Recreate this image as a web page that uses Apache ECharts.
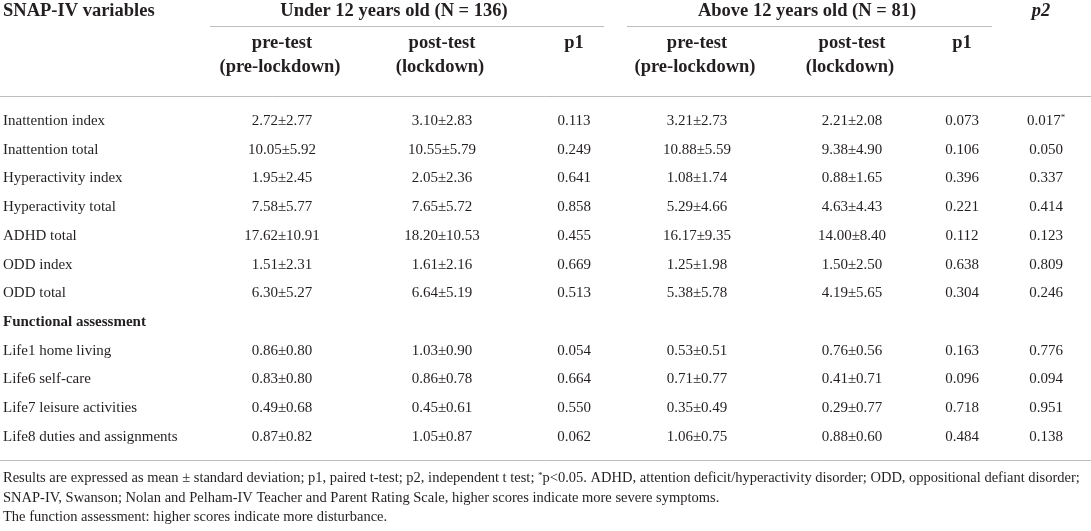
<!DOCTYPE html>
<html>
<head>
<meta charset="utf-8">
<script src="https://cdn.jsdelivr.net/npm/echarts@6/dist/echarts.min.js"></script>
<style>
html, body { margin: 0; padding: 0; background: #fff; }
#main { width: 1091px; height: 531px; }
</style>
</head>
<body>
<div id="main"></div>
<script>
'use strict';
// row labels (one with null values = section heading)
var rowLabels = ['Inattention index', 'Inattention total', 'Hyperactivity index', 'Hyperactivity total',
	'ADHD total', 'ODD index', 'ODD total', 'Functional assessment',
	'Life1 home living', 'Life6 self-care', 'Life7 leisure activities', 'Life8 duties and assignments'];

var under12PreMean = [2.72, 10.05, 1.95, 7.58, 17.62, 1.51, 6.30, null, 0.86, 0.83, 0.49, 0.87];
var under12PreSd = [2.77, 5.92, 2.45, 5.77, 10.91, 2.31, 5.27, null, 0.80, 0.80, 0.68, 0.82];
var under12PostMean = [3.10, 10.55, 2.05, 7.65, 18.20, 1.61, 6.64, null, 1.03, 0.86, 0.45, 1.05];
var under12PostSd = [2.83, 5.79, 2.36, 5.72, 10.53, 2.16, 5.19, null, 0.90, 0.78, 0.61, 0.87];
var under12P1 = [0.113, 0.249, 0.641, 0.858, 0.455, 0.669, 0.513, null, 0.054, 0.664, 0.550, 0.062];

var above12PreMean = [3.21, 10.88, 1.08, 5.29, 16.17, 1.25, 5.38, null, 0.53, 0.71, 0.35, 1.06];
var above12PreSd = [2.73, 5.59, 1.74, 4.66, 9.35, 1.98, 5.78, null, 0.51, 0.77, 0.49, 0.75];
var above12PostMean = [2.21, 9.38, 0.88, 4.63, 14.00, 1.50, 4.19, null, 0.76, 0.41, 0.29, 0.88];
var above12PostSd = [2.08, 4.90, 1.65, 4.43, 8.40, 2.50, 5.65, null, 0.56, 0.71, 0.77, 0.60];
var above12P1 = [0.073, 0.106, 0.396, 0.221, 0.112, 0.638, 0.304, null, 0.163, 0.096, 0.718, 0.484];

var p2 = [0.017, 0.050, 0.337, 0.414, 0.123, 0.809, 0.246, null, 0.776, 0.094, 0.951, 0.138];

var firstHead = 'SNAP-IV variables';
var groupTitles = ['Under 12 years old (N = 136)', 'Above 12 years old (N = 81)'];
var subHeads = [['pre-test', '(pre-lockdown)'], ['post-test', '(lockdown)'], ['p1']];
var lastHead = 'p2';
var footnotes = [
	'Results are expressed as mean \u00b1 standard deviation; p1, paired t-test; p2, independent t test; {s|*}p<0.05. ADHD, attention deficit/hyperactivity disorder; ODD, oppositional defiant disorder;',
	'SNAP-IV, Swanson; Nolan and Pelham-IV Teacher and Parent Rating Scale, higher scores indicate more severe symptoms.',
	'The function assessment: higher scores indicate more disturbance.'
];

// layout
var INK = '#231f20';
var RULE = '#bdbdbd';
var SERIF = '"Liberation Serif", "DejaVu Serif", serif';
var colX = [3, 282, 442, 574, 697, 852, 962, 1046];

function ms(m, s) {
	return m == null ? '' : m.toFixed(2) + '\u00b1' + s.toFixed(2);
}
function pv(p) {
	return p == null ? '' : p.toFixed(3);
}

var cells = [];
rowLabels.forEach(function (lab, i) {
	var section = under12PreMean[i] == null;
	cells.push([colX[0], i, lab, section ? 'section' : 'label']);
	if (section) return;
	cells.push([colX[1], i, ms(under12PreMean[i], under12PreSd[i]), 'num']);
	cells.push([colX[2], i, ms(under12PostMean[i], under12PostSd[i]), 'num']);
	cells.push([colX[3], i, pv(under12P1[i]), 'num']);
	cells.push([colX[4], i, ms(above12PreMean[i], above12PreSd[i]), 'num']);
	cells.push([colX[5], i, ms(above12PostMean[i], above12PostSd[i]), 'num']);
	cells.push([colX[6], i, pv(above12P1[i]), 'num']);
	cells.push([colX[7], i, pv(p2[i]) + (p2[i] < 0.05 ? '{s|*}' : ''), 'num']);
});

function headText(x, y, text, align, style) {
	return {
		type: 'text', x: x, y: y, silent: true,
		style: {
			text: text, fill: INK, align: align || 'center', verticalAlign: 'middle',
			font: (style || 'bold') + ' 18.5px ' + SERIF
		}
	};
}
function rule(x1, x2, y) {
	return {
		type: 'line', silent: true,
		shape: { x1: x1, y1: y, x2: x2, y2: y },
		style: { stroke: RULE, lineWidth: 1 }
	};
}

var graphics = [
	headText(3, 11, firstHead, 'left'),
	headText(394, 11, groupTitles[0]),
	headText(807, 11, groupTitles[1]),
	headText(1041, 11, lastHead, 'center', 'italic bold'),
	rule(210, 604, 26.5),
	rule(627, 992, 26.5),
	rule(0, 1091, 96.5),
	rule(0, 1091, 460.5)
];
[[1, 4], [2, 5], [3, 6]].forEach(function (pair, k) {
	pair.forEach(function (c) {
		var x = colX[c];
		graphics.push(headText(x, 43, subHeads[k][0]));
		if (subHeads[k][1]) graphics.push(headText(x - 2, 67, subHeads[k][1]));
	});
});
footnotes.forEach(function (t, i) {
	graphics.push({
		type: 'text', x: 3, y: 478.5 + i * 19.5, silent: true,
		style: {
			text: t, fill: INK, align: 'left', verticalAlign: 'middle',
			font: '14.5px ' + SERIF,
			rich: { s: { fontSize: 9, verticalAlign: 'top', fill: INK, fontFamily: SERIF } }
		}
	});
});

var chart = echarts.init(document.getElementById('main'));
chart.setOption({
	backgroundColor: '#fff',
	animation: false,
	grid: { left: 0, right: 0, top: 106.6, height: 344.7 },
	xAxis: { type: 'value', min: 0, max: 1091, show: false },
	yAxis: { type: 'category', data: rowLabels, inverse: true, show: false },
	graphic: graphics,
	series: [{
		type: 'custom',
		data: cells,
		renderItem: function (params, api) {
			var cell = cells[params.dataIndex];
			var pt = api.coord([cell[0], cell[1]]);
			var kind = cell[3];
			return {
				type: 'text', x: pt[0], y: pt[1],
				style: {
					text: cell[2], fill: INK,
					align: kind === 'num' ? 'center' : 'left',
					verticalAlign: 'middle',
					font: (kind === 'section' ? 'bold ' : '') + '15px ' + SERIF,
					rich: { s: { fontSize: 9, verticalAlign: 'top', fill: INK, fontFamily: SERIF } }
				}
			};
		}
	}]
});
</script>
</body>
</html>
